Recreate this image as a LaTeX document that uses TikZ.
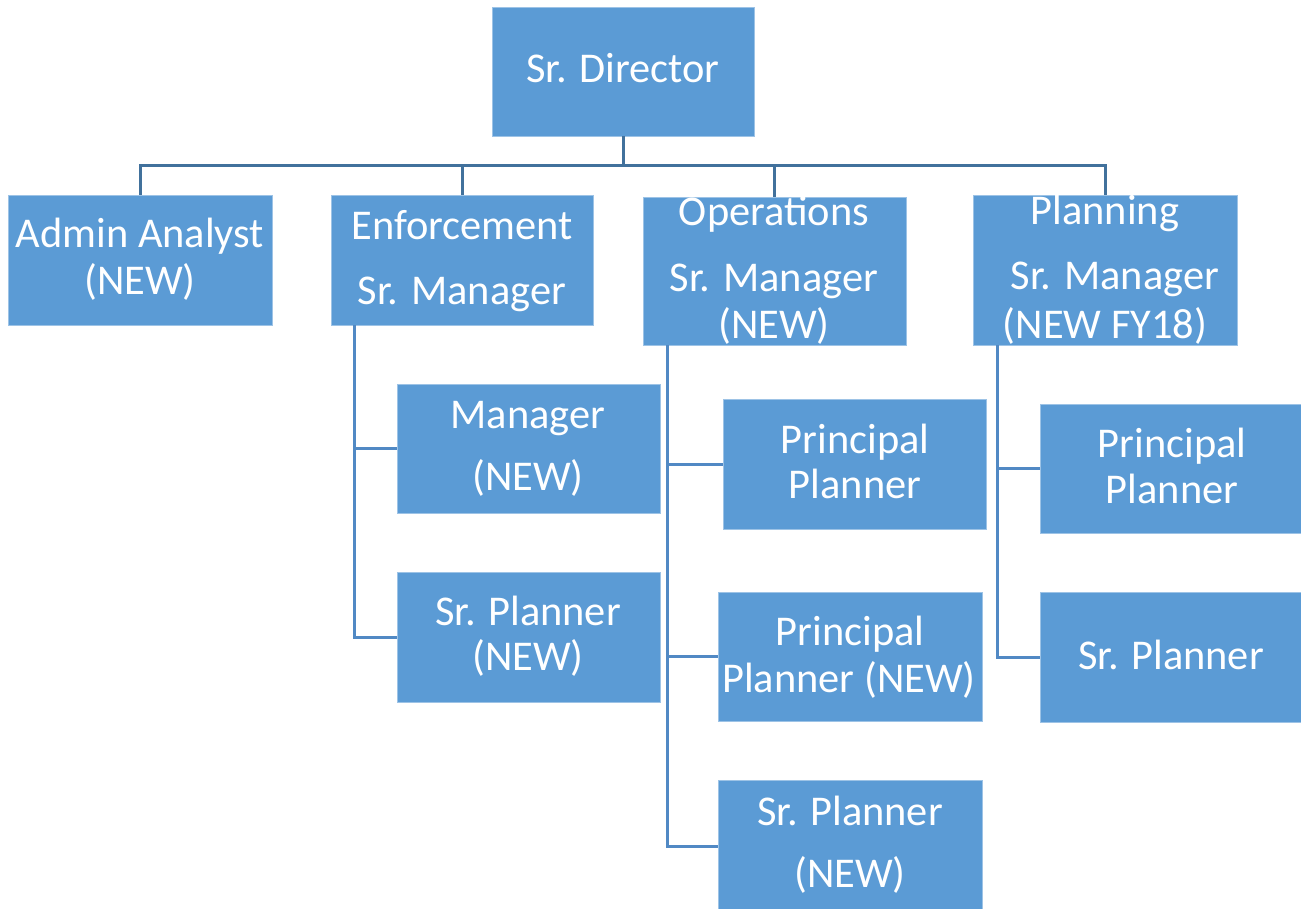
\documentclass[tikz,border=0pt]{standalone}
\usepackage{fontspec}
\setmainfont{Carlito}
\definecolor{boxblue}{HTML}{5B9BD5}
\definecolor{boxedge}{HTML}{9DC3E6}
\definecolor{topline}{HTML}{41719C}
\definecolor{subline}{HTML}{5189C4}
\tikzset{
  box/.style={rectangle, fill=boxblue, draw=boxedge, line width=0.8pt, inner sep=0pt},
  txt/.style={anchor=base, text=white, inner sep=0pt, font=\fontsize{42.4}{50}\selectfont},
  topconn/.style={draw=topline, line width=3pt},
  subconn/.style={draw=subline, line width=3pt},
}
\newcommand{\boxat}[5]{% name, x1, y1, x2, y2
  \node[box, minimum width={#4-#2}, minimum height={#5-#3}] (#1) at ({(#2+#4)/2},{(#3+#5)/2}) {};}
\begin{document}
\begin{tikzpicture}[x=1pt, y=-1pt]
\useasboundingbox (0,0) rectangle (1301,909);
% boxes
\boxat{dir}{492}{7}{754}{136}
\boxat{admin}{8}{195}{272}{325}
\boxat{enf}{331}{195}{593}{325}
\boxat{ops}{643}{197}{906}{345}
\boxat{plan}{973}{195}{1237}{345}
\boxat{mgr}{397}{384}{660}{513}
\boxat{spE}{397}{572}{660}{702}
\boxat{ppO}{723}{399}{986}{529}
\boxat{ppN}{718}{592}{982}{721}
\boxat{spO}{718}{780}{982}{912}
\boxat{ppP}{1040}{404}{1304}{533}
\boxat{spP}{1040}{592}{1304}{722}
% texts
\node[txt] (dirT) at (623,83) {Sr. Director};
\node[txt] (adminT1) at (140,248) {Admin Analyst};
\node[txt] (adminT2) at (140,295) {(NEW)};
\node[txt] (enfT1) at (462,240) {Enforcement};
\node[txt] (enfT2) at (462,305) {Sr. Manager};
\node[txt] (opsT1) at (774,226) {Operations};
\node[txt] (opsT2) at (774,292) {Sr. Manager};
\node[txt] (opsT3) at (774,338) {(NEW)};
\node[txt] (planT1) at (1105,225) {Planning};
\node[txt] (planT2) at (1115,290) {Sr. Manager};
\node[txt] (planT3) at (1105,338) {(NEW FY18)};
\node[txt] (mgrT1) at (528,428) {Manager};
\node[txt] (mgrT2) at (528,490) {(NEW)};
\node[txt] (spET1) at (528,625) {Sr. Planner};
\node[txt] (spET2) at (528,670) {(NEW)};
\node[txt] (ppOT1) at (855,453) {Principal};
\node[txt] (ppOT2) at (855,498) {Planner};
\node[txt] (ppNT1) at (850,645) {Principal};
\node[txt] (ppNT2) at (849,692) {Planner (NEW)};
\node[txt] (spOT1) at (850,825) {Sr. Planner};
\node[txt] (spOT2) at (850,887) {(NEW)};
\node[txt] (ppPT1) at (1172,457) {Principal};
\node[txt] (ppPT2) at (1172,503) {Planner};
\node[txt] (spPT1) at (1171,669) {Sr. Planner};
% top connectors
\coordinate (busL) at (140,166);
\coordinate (busR) at (1105,166);
\draw[topconn] (admin.north) -- (busL) -- (busR) -- (plan.north);
\draw[topconn] (dir.south) -- (dir.south |- busL);
\draw[topconn] (enf.north) -- (enf.north |- busL);
\draw[topconn] (ops.north) -- (ops.north |- busL);
% sub connectors
\draw[subconn] ([xshift=24pt]enf.south west) |- (mgr.west);
\draw[subconn] ([xshift=24pt]enf.south west) |- (spE.west);
\draw[subconn] ([xshift=25pt]ops.south west) |- (ppO.west);
\draw[subconn] ([xshift=25pt]ops.south west) |- (ppN.west);
\draw[subconn] ([xshift=25pt]ops.south west) |- (spO.west);
\draw[subconn] ([xshift=25pt]plan.south west) |- (ppP.west);
\draw[subconn] ([xshift=25pt]plan.south west) |- (spP.west);
\end{tikzpicture}
\end{document}
